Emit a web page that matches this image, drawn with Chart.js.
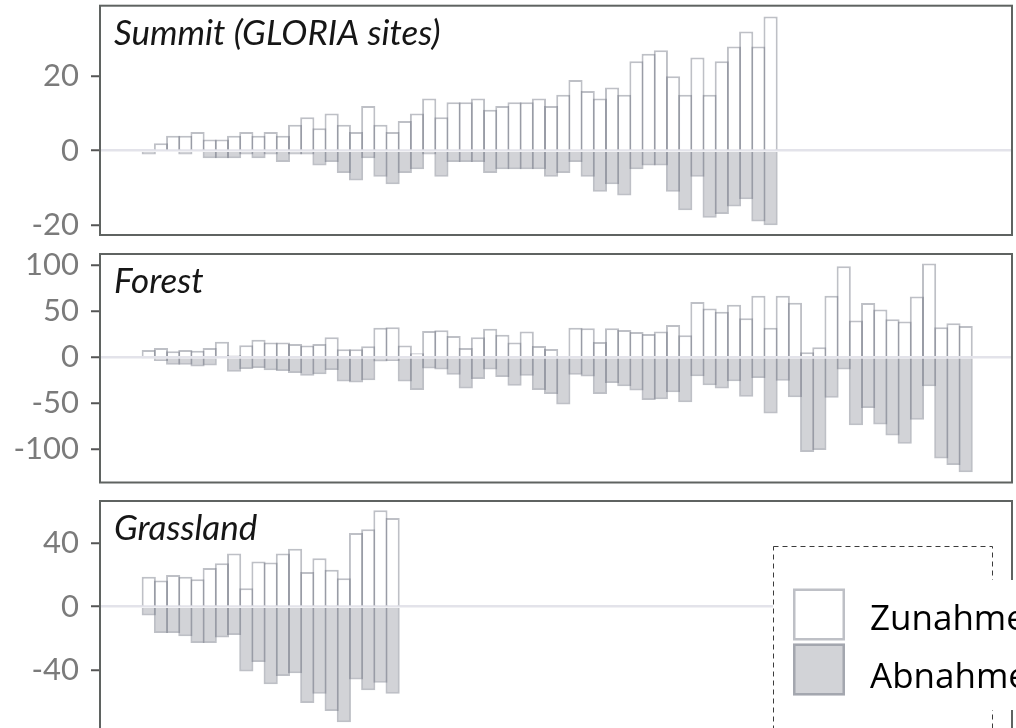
<!DOCTYPE html>
<html lang="de">
<head>
<meta charset="utf-8">
<title>Zunahme und Abnahme je Standort</title>
<script src="https://cdn.jsdelivr.net/npm/chart.js@4.4.1/dist/chart.umd.min.js"></script>
<style>
  html, body { margin: 0; padding: 0; width: 1016px; height: 728px; overflow: hidden; background: #ffffff; }
  canvas { position: absolute; left: 0; }
</style>
</head>
<body>
<canvas id="summit" width="1016" height="250" style="top:0px"></canvas>
<canvas id="forest" width="1016" height="260" style="top:240px"></canvas>
<canvas id="grass" width="1016" height="290" style="top:490px"></canvas>
<script>
// Series names (legend)
const seriesLabels = ['Zunahme', 'Abnahme'];

// Panel titles
const panelTitles = ['Summit (GLORIA sites)', 'Forest', 'Grassland'];

// Summit (GLORIA sites): one bar pair per site
const summitUp = [0, 2, 4, 4, 5, 3, 3, 4, 5, 4,
                  5, 4, 7, 9, 6, 10, 7, 5, 12, 7,
                  5, 8, 10, 14, 9, 13, 13, 14, 11, 12,
                  13, 13, 14, 12, 15, 19, 16, 14, 17, 15,
                  24, 26, 27, 20, 15, 25, 15, 24, 28, 32,
                  28, 36];
const summitDown = [-1, 0, 0, -1, 0, -2, -2, -2, -1, -2,
                    -1, -3, -1, -1, -4, -3, -6, -8, -2, -7,
                    -9, -6, -5, -1, -7, -3, -3, -3, -6, -5,
                    -5, -5, -5, -7, -6, -3, -7, -11, -9, -12,
                    -5, -4, -4, -11, -16, -7, -18, -17, -15, -13,
                    -19, -20];

// Forest
const forestUp = [8, 10, 6.5, 8, 7, 10, 17, 2.5, 13, 19,
                  16, 16, 14.5, 12.7, 14.5, 21.7, 8.7, 8.7, 12, 32,
                  32.6, 12.7, 4.5, 28.6, 29.3, 23, 10, 21.7, 31, 24.6,
                  16, 28, 12.3, 9, 0, 32, 31.5, 16.7, 31.5, 29.7,
                  27.5, 25.4, 28, 35, 24, 60, 53, 49.6, 57, 42.4,
                  67, 32, 67, 59.4, 5.4, 11, 67, 99, 40, 59,
                  52, 41.3, 39, 66, 102, 32.6, 37, 34];
const forestDown = [-1, -4, -8, -8, -10, -9, 0, -15.6, -12.7, -11.6,
                    -14, -15, -17, -20, -18.5, -13.8, -26.4, -27.5, -25, -4.7,
                    -4, -26.4, -35.5, -12.3, -13.4, -19, -34, -23.5, -13.4, -21.4,
                    -31, -20, -35.5, -40, -51.4, -19, -21, -40, -28, -31.5,
                    -36, -46.4, -45.6, -38, -49, -20.6, -30.4, -34, -26, -43,
                    -22.5, -61, -25.4, -43.5, -103, -100.7, -44, -13.4, -74, -55,
                    -73, -85, -94, -67.8, -31.5, -110, -117, -125];

// Grassland
const grassUp = [19, 16.6, 20, 19, 17.4, 24.5, 27.4, 33.6, 11.7, 28.5,
                 27.9, 33.6, 36.6, 21.9, 30.6, 23.4, 17.9, 46.6, 49, 61,
                 56];
const grassDown = [-5.5, -16.6, -16.6, -18.7, -23, -23, -19.4, -17.9, -40.9, -35,
                   -49, -43.8, -42, -60.9, -55, -66, -73, -46, -52.8, -48,
                   -55];

// Y tick labels per panel
const summitTicks = [-20, 0, 20];
const forestTicks = [-100, -50, 0, 50, 100];
const grassTicks = [-40, 0, 40];

// ---- styling ----
const EDGE = 'rgba(105, 108, 124, 0.43)';
const UP_FILL = '#ffffff';
const DOWN_FILL = 'rgba(105, 108, 124, 0.30)';
const FRAME = '#5f6361';
const TICK_TEXT = '#7b7b7b';
const ZERO_LINE = '#e3e3ea';

// site index on a shared linear x axis
const X_MIN = -3;
const X_MAX = 71.8;

const toPoints = values => values.map((v, i) => ({ x: i + 1, y: v }));

const framePlugin = {
  id: 'panelFrame',
  afterDatasetsDraw(chart, args, opts) {
    const { ctx, chartArea: a } = chart;
    ctx.save();
    ctx.strokeStyle = FRAME;
    ctx.lineWidth = 2;
    ctx.strokeRect(a.left, a.top, a.right - a.left, a.bottom - a.top);
    ctx.font = 'italic 35px Lato';
    ctx.fillStyle = '#161616';
    ctx.textBaseline = 'alphabetic';
    ctx.fillText(opts.title, a.left + 14, a.top + 39);
    ctx.restore();
  }
};

const legendPlugin = {
  id: 'boxLegend',
  afterDraw(chart) {
    const ctx = chart.ctx;
    const oy = chart.canvas.offsetTop;          // page -> canvas offset
    const ds = chart.data.datasets;
    ctx.save();
    // dashed frame with white interior
    ctx.fillStyle = '#ffffff';
    ctx.fillRect(773, 546.5 - oy, 220, 260);
    ctx.strokeStyle = '#3c3c3c';
    ctx.lineWidth = 1;
    ctx.setLineDash([5, 4]);
    ctx.strokeRect(773.5, 546.5 - oy, 219, 260);
    ctx.setLineDash([]);
    // label block
    ctx.fillStyle = '#ffffff';
    ctx.fillRect(850, 580 - oy, 166, 130);
    const rows = [588.5, 643.5];
    const baselines = [630, 688];
    ctx.font = '35px "Open Sans"';
    ctx.textBaseline = 'alphabetic';
    ds.forEach((d, i) => {
      ctx.fillStyle = d.backgroundColor;
      ctx.fillRect(793, rows[i] - oy, 52, 52);
      ctx.strokeStyle = d.borderColor;
      ctx.lineWidth = 2.5;
      ctx.strokeRect(794.25, rows[i] - oy + 1.25, 49.5, 49.5);
      ctx.fillStyle = '#000000';
      ctx.fillText(d.label, 870, baselines[i] - oy);
    });
    ctx.restore();
  }
};

function panelChart(id, title, up, down, yMin, yMax, ticks, padding, extra) {
  return new Chart(document.getElementById(id), {
    type: 'bar',
    data: {
      datasets: [
        { label: seriesLabels[0], data: toPoints(up), backgroundColor: UP_FILL, borderColor: EDGE, borderWidth: 2, grouped: false },
        { label: seriesLabels[1], data: toPoints(down), backgroundColor: DOWN_FILL, borderColor: EDGE, borderWidth: 2, grouped: false }
      ]
    },
    options: {
      responsive: false,
      animation: false,
      devicePixelRatio: 1,
      layout: { padding },
      datasets: { bar: { barPercentage: 1.164, categoryPercentage: 1 } },
      plugins: {
        legend: { display: false },
        tooltip: { enabled: false },
        panelFrame: { title }
      },
      scales: {
        x: { type: 'linear', min: X_MIN, max: X_MAX, offset: false, display: false,
             ticks: { stepSize: 10 } },
        y: {
          min: yMin,
          max: yMax,
          afterBuildTicks: s => { s.ticks = ticks.map(v => ({ value: v })); },
          afterFit: s => { s.width = 100; s.paddingTop = 0; s.paddingBottom = 0; },
          border: { display: false },
          grid: {
            drawOnChartArea: true,
            color: c => (c.tick && c.tick.value === 0 ? ZERO_LINE : 'rgba(0,0,0,0)'),
            lineWidth: 2.5,
            tickColor: '#555555',
            tickWidth: 2,
            tickLength: 9
          },
          ticks: {
            padding: 12,
            color: TICK_TEXT,
            font: { family: 'Lato', size: 31 },
            callback: v => String(v)
          }
        }
      }
    },
    plugins: [framePlugin].concat(extra || [])
  });
}

function build() {
  panelChart('summit', panelTitles[0], summitUp, summitDown, -22.63, 38.93, summitTicks,
             { top: 5.7, bottom: 15, left: 0, right: 4 });
  panelChart('forest', panelTitles[1], forestUp, forestDown, -136.1, 112.25, forestTicks,
             { top: 14, bottom: 17.5, left: 0, right: 4 });
  panelChart('grass', panelTitles[2], grassUp, grassDown, -96.9, 66.8, grassTicks,
             { top: 11, bottom: 20, left: 0, right: 4 }, [legendPlugin]);
}

Promise.all([
  document.fonts.load('31px Lato'),
  document.fonts.load('italic 35px Lato'),
  document.fonts.load('35px "Open Sans"')
]).then(build, build);
</script>
</body>
</html>
